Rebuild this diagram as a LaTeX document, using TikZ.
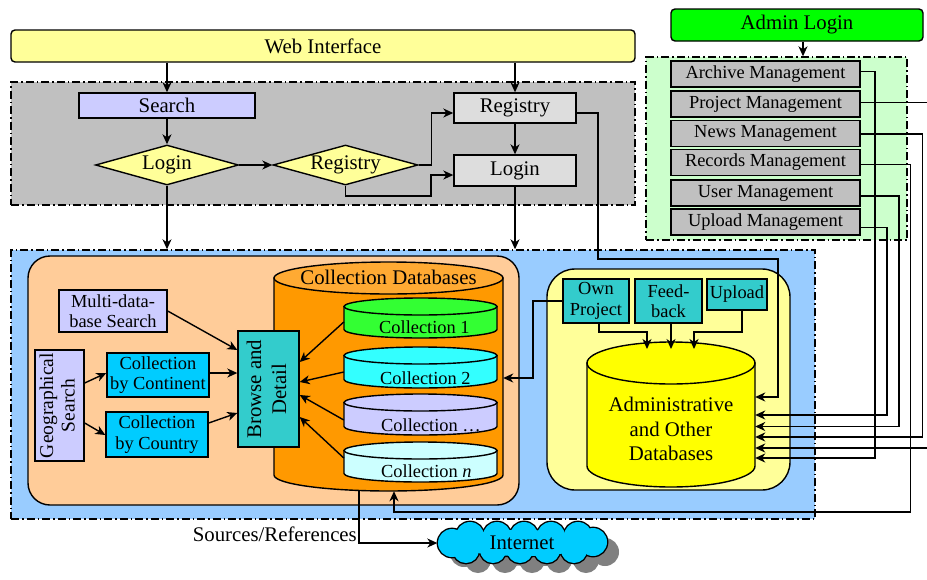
\documentclass[tikz,border=0pt]{standalone}
\usepackage{fontspec}
\usepackage{graphicx}
\setmainfont{Liberation Serif}
\usetikzlibrary{arrows.meta,shapes.geometric,calc}

\definecolor{webY}{HTML}{FFFF99}
\definecolor{grayR}{HTML}{C0C0C0}
\definecolor{lav}{HTML}{CCCCFF}
\definecolor{ltgray}{HTML}{DDDDDD}
\definecolor{adminG}{HTML}{00FF00}
\definecolor{greenR}{HTML}{CCFFCC}
\definecolor{mgmt}{HTML}{C0C0C0}
\definecolor{blueR}{HTML}{99CCFF}
\definecolor{orangeR}{HTML}{FFCC99}
\definecolor{dbOrange}{HTML}{FF9900}
\definecolor{dbOrangeTop}{HTML}{FFAA33}
\definecolor{colA}{HTML}{33FF33}
\definecolor{colB}{HTML}{33FFFF}
\definecolor{colC}{HTML}{CCCCFF}
\definecolor{colD}{HTML}{CCFFFF}
\definecolor{tealB}{HTML}{33CCCC}
\definecolor{skyB}{HTML}{00CCFF}
\definecolor{yelR}{HTML}{FFFF99}
\definecolor{yelDB}{HTML}{FFFF00}
\definecolor{shadowG}{HTML}{808080}

\newcommand\dbcyl[7]{%
  \filldraw[fill=#6, line width=1.4pt] (#1-#4,#2+#5) -- (#1-#4,#3-#5)
    arc[start angle=180,end angle=360,x radius=#4pt,y radius=#5pt]
    -- (#1+#4,#2+#5) -- cycle;
  \filldraw[fill=#7, line width=1.4pt] (#1,#2+#5) ellipse[x radius=#4pt, y radius=#5pt];
}
\newcommand\puffset{452/543/14, 470/536/14, 497/536/14, 524/536/14, 551/536/14, 578/536/14, 593/542/14,
  466/550/13, 493/550/13, 520/550/13, 547/550/13, 574/550/13}

\tikzset{
  bigf/.style={font=\fontsize{20.8}{25}\selectfont},
  smallf/.style={font=\fontsize{18.4}{20.5}\selectfont},
  box/.style={draw, line width=1.4pt, inner sep=0pt, align=center},
  region/.style={draw, line width=1.4pt, dash pattern=on 8pt off 3pt on 1.5pt off 3pt, inner sep=0pt},
  arr/.style={line width=1.4pt, -{Stealth[length=10pt,width=9pt,inset=3pt]}},
  dia/.style={draw, diamond, aspect=3.5, line width=1.4pt, inner sep=0pt, fill=webY,
              minimum width=143pt, minimum height=40pt},
  ghost/.style={inner sep=0pt, draw=none},
}

\begin{document}
\begin{tikzpicture}[x=1pt,y=-1pt]
\useasboundingbox (0,0) rectangle (927,579);
\fill[white] (0,0) rectangle (927,579);

% ---------- regions ----------
\node[region, fill=grayR, minimum width=624pt, minimum height=123pt] (grayreg) at (323,143.5) {};
\node[region, fill=greenR, minimum width=261pt, minimum height=183pt] (greenreg) at (776.5,148.5) {};
\node[region, fill=blueR, minimum width=804pt, minimum height=269pt] (bluereg) at (413,384.5) {};
\node[box, fill=orangeR, rounded corners=22pt, minimum width=491pt, minimum height=249pt] (orreg) at (273.5,380.5) {};
\node[box, fill=yelR, rounded corners=28pt, minimum width=243pt, minimum height=221pt] (yelreg) at (668.5,379.5) {};

% ---------- top ----------
\node[box, fill=webY, rounded corners=4pt, minimum width=624pt, minimum height=32pt, bigf] (web) at (323,46) {Web Interface};
\node[box, fill=lav, minimum width=176pt, minimum height=25pt, bigf] (search) at (167,105.5) {Search};
\node[dia, bigf] (logind) at (167,165) {Login};
\node[dia, bigf, minimum width=145pt] (regd) at (345.5,165) {Registry};
\node[box, fill=ltgray, minimum width=122pt, minimum height=30pt, bigf] (regbox) at (515,108) {Registry};
\node[box, fill=ltgray, minimum width=122pt, minimum height=31pt, bigf] (loginbox) at (515,170.5) {Login};

% ---------- admin ----------
\node[box, fill=adminG, rounded corners=4pt, minimum width=252pt, minimum height=32pt, bigf] (admin) at (797,25) {Admin Login};
\node[box, fill=mgmt, minimum width=189pt, minimum height=26pt, smallf] (arch) at (765.5,74) {Archive Management};
\node[box, fill=mgmt, minimum width=189pt, minimum height=26pt, smallf] (proj) at (765.5,104) {Project Management};
\node[box, fill=mgmt, minimum width=189pt, minimum height=26pt, smallf] (news) at (765.5,133.5) {News Management};
\node[box, fill=mgmt, minimum width=189pt, minimum height=26pt, smallf] (recs) at (765.5,162.5) {Records Management};
\node[box, fill=mgmt, minimum width=189pt, minimum height=26pt, smallf] (user) at (765.5,193) {User Management};
\node[box, fill=mgmt, minimum width=189pt, minimum height=26pt, smallf] (upld) at (765.5,222) {Upload Management};

% ---------- collection databases ----------
\dbcyl{388.5}{262}{491}{114.5}{16}{dbOrange}{dbOrangeTop}
\node[ghost, minimum width=229pt, minimum height=229pt] (colldb) at (388.5,376.5) {};
\node[bigf, inner sep=0pt] (colldbt) at (388.5,277) {Collection Databases};

\dbcyl{420.5}{298}{338}{76.5}{8.5}{colA}{colA}
\node[ghost, minimum width=153pt, minimum height=40pt] (c1) at (420.5,318) {};
\node[smallf, inner sep=0pt, anchor=west] (c1t) at (379,327) {Collection 1};

\dbcyl{420.5}{347}{388}{76.5}{8.5}{colB}{colB}
\node[ghost, minimum width=153pt, minimum height=41pt] (c2) at (420.5,367.5) {};
\node[smallf, inner sep=0pt, anchor=west] (c2t) at (380,378) {Collection 2};

\dbcyl{420.5}{394}{435}{76.5}{8.5}{colC}{colC}
\node[ghost, minimum width=153pt, minimum height=41pt] (c3) at (420.5,414.5) {};
\node[smallf, inner sep=0pt, anchor=west] (c3t) at (381,425) {Collection …};

\dbcyl{420.5}{442}{482}{76.5}{8.5}{colD}{colD}
\node[ghost, minimum width=153pt, minimum height=40pt] (c4) at (420.5,462) {};
\node[smallf, inner sep=0pt, anchor=west] (c4t) at (381,471) {Collection \textit{n}};

% ---------- admin db ----------
\dbcyl{671}{342}{487}{84}{21}{yelDB}{yelDB}
\node[ghost, minimum width=168pt, minimum height=145pt] (admdb) at (671,414.5) {};
\coordinate (admtop) at (671,349);
\node[align=center, inner sep=0pt, font=\fontsize{20.8}{24.5}\selectfont] (admdbt) at (671,429) {Administrative\\and Other\\Databases};

% ---------- left boxes ----------
\node[box, fill=lav, minimum width=108pt, minimum height=42pt, smallf] (multi) at (113,311) {Multi-data-\\base Search};
\node[box, fill=lav, minimum width=49pt, minimum height=111pt, font=\fontsize{19.5}{21.6}\selectfont] (geo) at (59.5,405.5)
  {\rotatebox{90}{\begin{tabular}{@{}c@{}}Geographical\\Search\end{tabular}}};
\node[box, fill=skyB, minimum width=102pt, minimum height=44pt, smallf] (cont) at (158,375) {Collection\\by Continent};
\node[box, fill=skyB, minimum width=102pt, minimum height=45pt, smallf] (ctry) at (157,434.5) {Collection\\by Country};
\node[box, fill=tealB, minimum width=61pt, minimum height=116pt, bigf] (browse) at (268.5,389)
  {\rotatebox{90}{\begin{tabular}{@{}c@{}}Browse and\\Detail\end{tabular}}};

% ---------- right boxes ----------
\node[box, fill=tealB, minimum width=66pt, minimum height=44pt, smallf] (ownp) at (596,301) {Own\\Project};
\node[box, fill=tealB, minimum width=67pt, minimum height=44pt, smallf] (feed) at (668.5,301) {Feed-\\back};
\node[box, fill=tealB, minimum width=60pt, minimum height=31pt, smallf] (upl) at (737,294.5) {Upload};

% ---------- internet cloud ----------
\foreach \px/\py/\pr in \puffset {\fill[shadowG] (\px+12,\py+10) circle[radius=\pr pt];}
\fill[shadowG] (534,553) ellipse[x radius=70pt, y radius=13pt];
\foreach \px/\py/\pr in \puffset {\draw[line width=2.8pt] (\px,\py) circle[radius=\pr pt];}
\draw[line width=2.8pt] (522,543) ellipse[x radius=70pt, y radius=13pt];
\foreach \px/\py/\pr in \puffset {\fill[skyB] (\px,\py) circle[radius=\pr pt];}
\fill[skyB] (522,543) ellipse[x radius=70pt, y radius=13pt];
\node[ghost, minimum width=169pt, minimum height=41pt, bigf] (inet) at (522,543) {Internet};
\node[bigf, anchor=east, inner sep=0pt] (srcref) at (357,534) {Sources/References};

% ---------- connectors: top ----------
\draw[arr] (web.south -| search.north) -- (search.north);
\draw[arr] (web.south -| regbox.north) -- (regbox.north);
\draw[arr] (search.south) -- (logind.north);
\draw[arr] (logind.east) -- (regd.west);
\draw[arr] (regd.east) -- ++(13,0) |- (regbox.west |- 0,113);
\draw[arr] (regd.south) |- (431,196) |- (loginbox.west |- 0,175);
\draw[arr] (regbox.south) -- (loginbox.north);
\draw[arr] (logind.south) -- (logind.south |- bluereg.north);
\draw[arr] (loginbox.south) -- (loginbox.south |- bluereg.north);
\draw[arr] (regbox.east |- 0,113) -| (598,259) -| (778,397) -- (admdb.east |- 0,397);

% ---------- connectors: admin ----------
\draw[arr] (admin.south -| 803,0) -- (greenreg.north -| 803,0);
\draw[arr] (arch.east |- 0,71.5) -| (875,458) -- (admdb.east |- 0,458);
\draw[arr] (proj.east |- 0,102.5) -| (945,448) -- (admdb.east |- 0,448);
\draw[arr] (news.east |- 0,134) -| (922.5,437) -- (admdb.east |- 0,437);
\draw[arr] (recs.east |- 0,164.5) -| (910.5,512) -| (colldb.south -| 394,0);
\draw[arr] (user.east |- 0,196) -| (899,426.5) -- (admdb.east |- 0,426.5);
\draw[arr] (upld.east |- 0,227.5) -| (887,415) -- (admdb.east |- 0,415);

% ---------- connectors: left ----------
\draw[arr] (multi.east) -- (browse.west |- 0,350);
\draw[arr] (geo.east |- 0,383) -- (cont.west |- 0,373);
\draw[arr] (geo.east |- 0,423) -- (ctry.west |- 0,435);
\draw[arr] (cont.east |- 0,373) -- (browse.west |- 0,373);
\draw[arr] (ctry.east |- 0,423) -- (browse.west |- 0,413);
\draw[arr] (c1.west |- 0,322) -- (browse.east |- 0,362);
\draw[arr] (c2.west |- 0,372) -- (browse.east |- 0,382);
\draw[arr] (c3.west |- 0,420) -- (browse.east |- 0,395);
\draw[arr] (c4.west |- 0,458) -- (browse.east |- 0,417);

% ---------- connectors: right ----------
\draw[arr] (ownp.west) -| (533,378) -- (colldb.east |- 0,378);
\draw[arr] (ownp.south -| 599,0) |- (647,332) -- (admtop -| 647,0);
\draw[arr] (feed.south -| 671,0) -- (admtop);
\draw[arr] (upl.south -| 742,0) |- (694,332) -- (admtop -| 694,0);
\draw[arr] (colldb.south -| 359,0) |- (inet.west);
\end{tikzpicture}
\end{document}
